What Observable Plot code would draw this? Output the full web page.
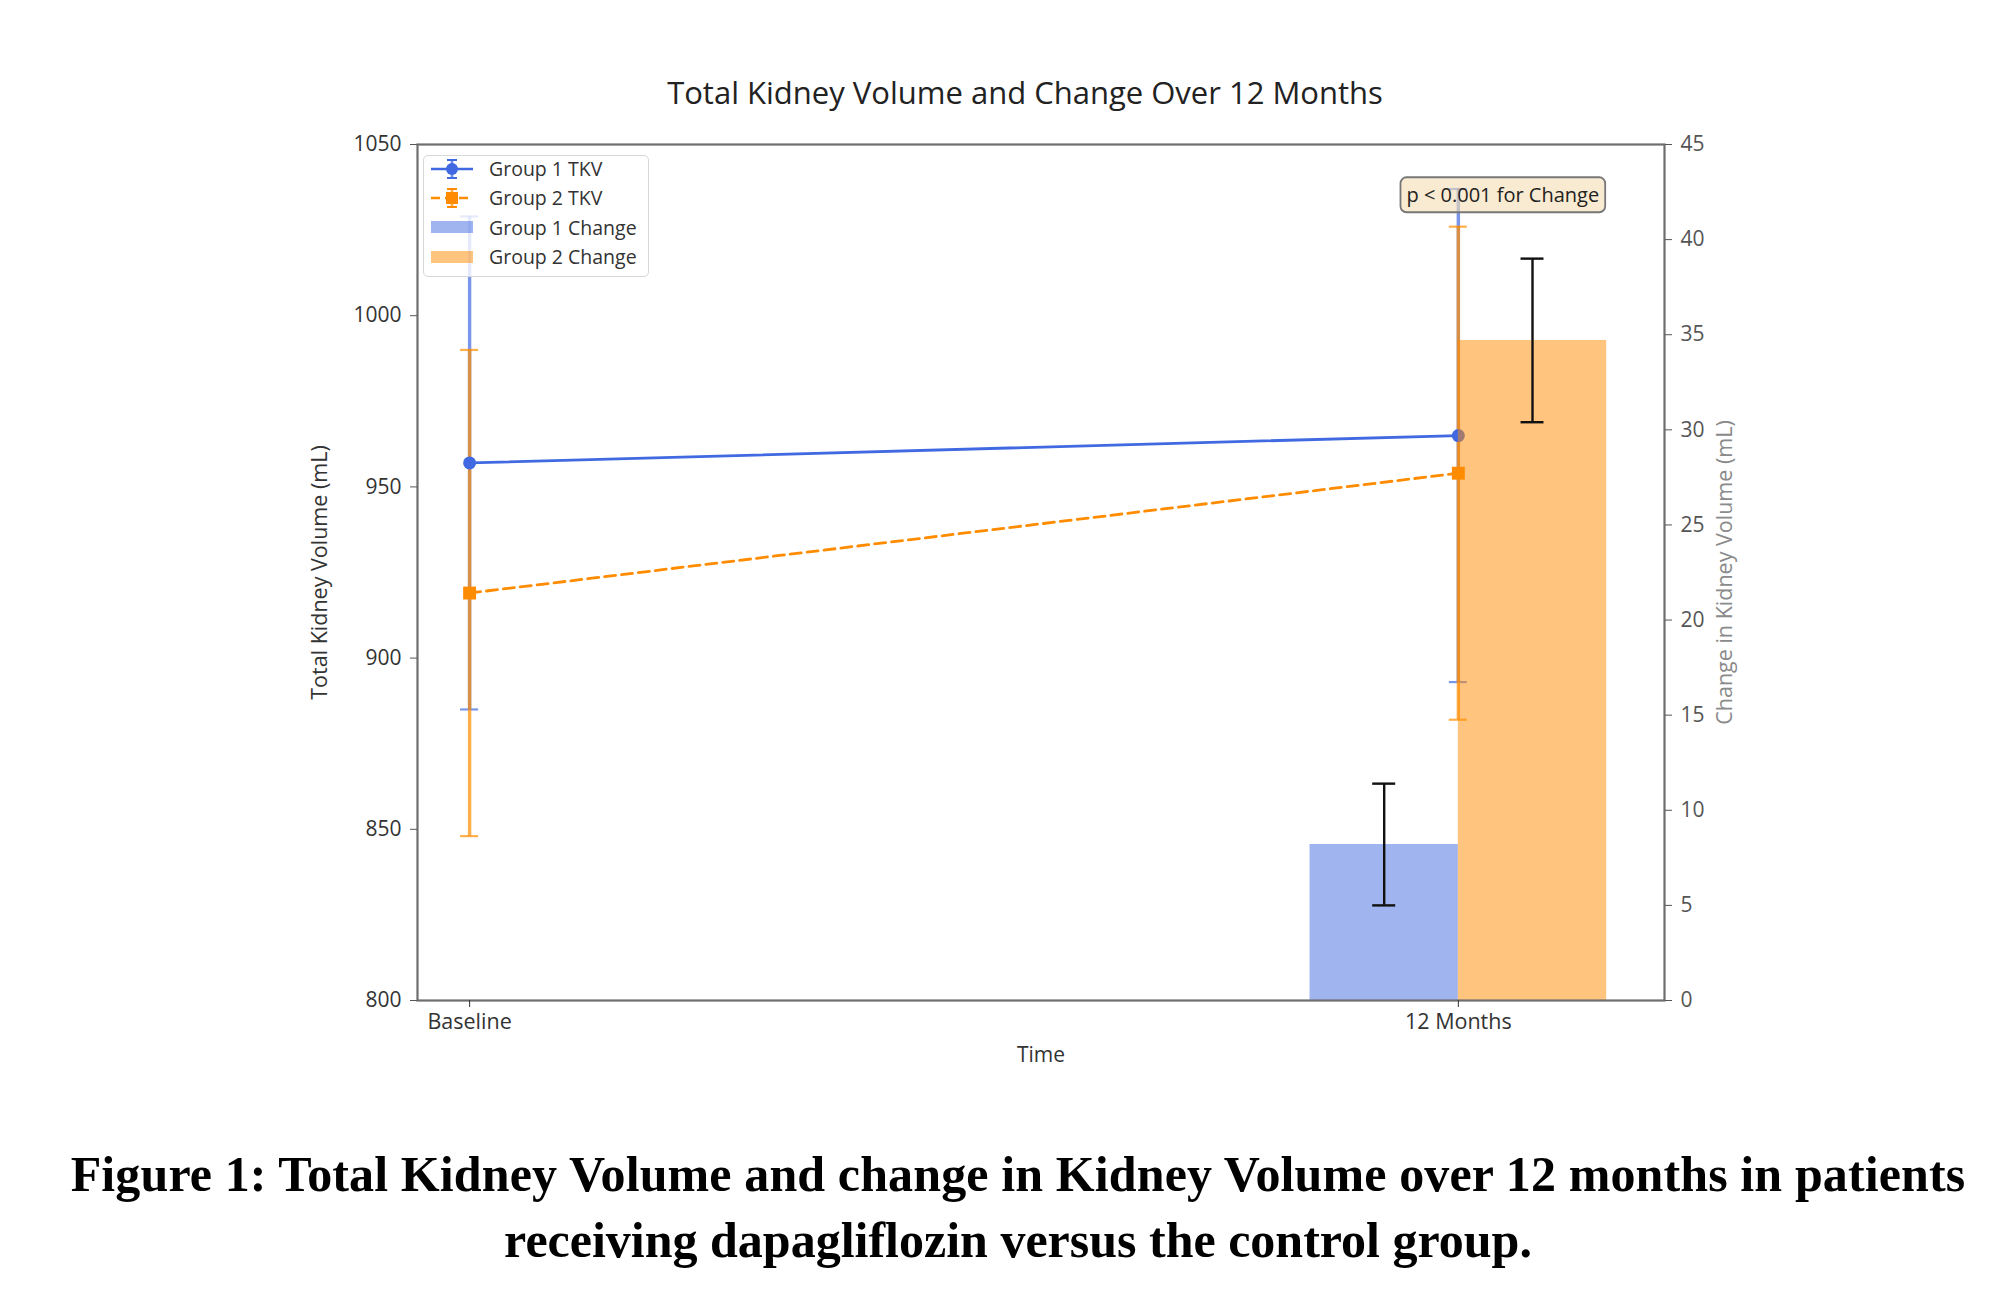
<!DOCTYPE html>
<html><head><meta charset="utf-8">
<script src="https://cdn.jsdelivr.net/npm/d3@7"></script>
<script src="https://cdn.jsdelivr.net/npm/@observablehq/plot@0.6"></script>
<style>
body{margin:0;background:#fff;width:1995px;height:1302px;overflow:hidden;position:relative;font-family:"Open Sans",sans-serif}
#chart{position:absolute;left:0;top:0}
#legend{position:absolute;left:423px;top:155px;width:226px;height:122px;box-sizing:border-box;border:1.5px solid #d8d8d8;border-radius:5px;background:rgba(255,255,255,0.8);padding-top:0}
#legend .inner{margin-top:-2px}
.row{height:29.3px;display:flex;align-items:center;font-size:19.5px;color:#333}
.row svg{margin-left:6px;margin-right:15px}
.cap{position:absolute;font-family:"Liberation Serif","Times New Roman",serif;font-weight:bold;font-size:50px;line-height:58px;color:#000;white-space:nowrap;text-align:center;left:0;width:2036px}
#cap1{top:1145px;letter-spacing:0.12px}
#cap2{top:1211px}
</style></head><body>
<div id="chart"></div>
<div id="legend"></div>
<div id="cap1" class="cap">Figure 1: Total Kidney Volume and change in Kidney Volume over 12 months in patients</div>
<div id="cap2" class="cap">receiving dapagliflozin versus the control group.</div>
<script>
// ---- data ----
const timepoints = ["Baseline", "12 Months"];
const timeIndex = [0, 1];
const g1Mean = [957, 965];
const g1SD = [72, 72];
const g2Mean = [919, 954];
const g2SD = [71, 72];
const changeLabels = ["Group 1 Change", "Group 2 Change"];
const changeMean = [8.2, 34.7];
const changeSD = [3.2, 4.3];
const leftTicks = [800, 850, 900, 950, 1000, 1050];
const rightTicks = [0, 5, 10, 15, 20, 25, 30, 35, 40, 45];
const leftDomain = [800, 1050];
const rightDomain = [0, 45];
const annotationText = "p < 0.001 for Change";
const annotationPos = {x: 1.045, y: 1035};
const legendLabels = ["Group 1 TKV", "Group 2 TKV", "Group 1 Change", "Group 2 Change"];

// ---- layout ----
const W = 1995, H = 1090;
const mL = 417, mR = 331, mT = 144, mB = 90;
const xDomain = [-0.0527, 1.2085];
const pxPerUnit = (W - mL - mR) / (xDomain[1] - xDomain[0]);
const capTKV = 9 / pxPerUnit, capChange = 11.5 / pxPerUnit;
const barW = 0.15;
const blue = "#4169E1", orange = "#FF8C00";

const toLeft = v => leftDomain[0] + (v - rightDomain[0]) * (leftDomain[1] - leftDomain[0]) / (rightDomain[1] - rightDomain[0]);
const fromLeft = y => rightDomain[0] + (y - leftDomain[0]) * (rightDomain[1] - rightDomain[0]) / (leftDomain[1] - leftDomain[0]);

const g1 = timeIndex.map((t, i) => ({x: t, mean: g1Mean[i], lo: g1Mean[i] - g1SD[i], hi: g1Mean[i] + g1SD[i]}));
const g2 = timeIndex.map((t, i) => ({x: t, mean: g2Mean[i], lo: g2Mean[i] - g2SD[i], hi: g2Mean[i] + g2SD[i]}));
const bars = changeLabels.map((g, i) => ({
  group: g,
  x1: 1 + (i - 1) * barW, x2: 1 + i * barW, xc: 1 + (i - 0.5) * barW,
  top: toLeft(changeMean[i]),
  lo: toLeft(changeMean[i] - changeSD[i]), hi: toLeft(changeMean[i] + changeSD[i]),
  color: i === 0 ? blue : orange
}));

function errMarks(data, color, op) {
  return [
    Plot.ruleX(data, {x: "x", y1: "lo", y2: "hi", stroke: color, strokeWidth: 3.4, strokeOpacity: op}),
    Plot.ruleY(data, {y: "lo", x1: d => d.x - capTKV, x2: d => d.x + capTKV, stroke: color, strokeWidth: 2.2, strokeOpacity: op}),
    Plot.ruleY(data, {y: "hi", x1: d => d.x - capTKV, x2: d => d.x + capTKV, stroke: color, strokeWidth: 2.2, strokeOpacity: op})
  ];
}

const chart = Plot.plot({
  width: W, height: H,
  marginLeft: mL, marginRight: mR, marginTop: mT, marginBottom: mB,
  style: {fontFamily: "Open Sans, sans-serif", background: "#fff", overflow: "visible"},
  x: {type: "linear", domain: xDomain, axis: null},
  y: {domain: leftDomain, axis: null},
  marks: [
    ...errMarks(g1, blue, 0.7),
    ...errMarks(g2, orange, 0.7),
    Plot.line(g1, {x: "x", y: "mean", stroke: blue, strokeWidth: 2.8}),
    Plot.line(g2, {x: "x", y: "mean", stroke: orange, strokeWidth: 2.8, strokeDasharray: "11,6"}),
    Plot.dot(g1, {x: "x", y: "mean", r: 6.5, fill: blue, symbol: "circle"}),
    Plot.dot(g2, {x: "x", y: "mean", r: 7.3, fill: orange, symbol: "square"}),
    Plot.rect(bars, {x1: "x1", x2: "x2", y1: leftDomain[0], y2: "top", fill: "color", fillOpacity: 0.5}),
    Plot.ruleX(bars, {x: "xc", y1: "lo", y2: "hi", stroke: "#111", strokeWidth: 2.4}),
    Plot.ruleY(bars, {y: "lo", x1: d => d.xc - capChange, x2: d => d.xc + capChange, stroke: "#111", strokeWidth: 2.4}),
    Plot.ruleY(bars, {y: "hi", x1: d => d.xc - capChange, x2: d => d.xc + capChange, stroke: "#111", strokeWidth: 2.4}),
    Plot.frame({stroke: "#6e6e6e", strokeWidth: 2.2}),
    Plot.axisY({anchor: "left", ticks: leftTicks, tickFormat: d => String(d), tickSize: 7, tickPadding: 9, fontSize: 21, label: null, color: "#333", stroke: "#555"}),
    Plot.axisY({anchor: "right", ticks: rightTicks.map(toLeft), tickFormat: d => String(Math.round(fromLeft(d))), tickSize: 7, tickPadding: 9, fontSize: 21, label: null, color: "#555"}),
    Plot.axisX({anchor: "bottom", ticks: timeIndex, tickFormat: d => timepoints[d], tickSize: 7, tickPadding: 6, fontSize: 21.5, label: null, color: "#333"}),
    Plot.text(["Total Kidney Volume and Change Over 12 Months"], {text: d => d, frameAnchor: "top", dx: -16, dy: -63, fontSize: 31, fill: "#222"}),
    Plot.text(["Total Kidney Volume (mL)"], {text: d => d, frameAnchor: "left", textAnchor: "middle", dx: -97, rotate: -90, fontSize: 21.5, fill: "#333"}),
    Plot.text(["Change in Kidney Volume (mL)"], {text: d => d, frameAnchor: "right", textAnchor: "middle", dx: 61, rotate: -90, fontSize: 21.5, fill: "#8a8a8a"}),
    Plot.text(["Time"], {text: d => d, frameAnchor: "bottom", dy: 61, fontSize: 21, fill: "#333"}),
    Plot.text([annotationPos], {x: "x", y: "y", text: () => annotationText, fontSize: 20, fill: "#222"})
  ]
});
document.getElementById("chart").appendChild(chart);

// annotation box behind the text
const svg = chart.tagName.toLowerCase() === "svg" ? chart : chart.querySelector("svg");
for (const t of svg.querySelectorAll("text")) {
  if (t.textContent === annotationText) {
    const b = t.getBBox();
    const ns = "http://www.w3.org/2000/svg";
    const r = document.createElementNS(ns, "rect");
    const padX = 6, padY = 4;
    r.setAttribute("x", b.x - padX); r.setAttribute("y", b.y - padY);
    r.setAttribute("width", b.width + 2 * padX); r.setAttribute("height", b.height + 2 * padY);
    r.setAttribute("rx", 6); r.setAttribute("fill", "rgba(245,222,179,0.6)");
    r.setAttribute("stroke", "#777"); r.setAttribute("stroke-width", 1.8);
    if (t.getAttribute("transform")) r.setAttribute("transform", t.getAttribute("transform"));
    t.parentNode.insertBefore(r, t);
  }
}

// legend
const handles = [
  `<svg width="44" height="26"><line x1="1" y1="13" x2="43" y2="13" stroke="${blue}" stroke-width="2.6"/><line x1="22" y1="4" x2="22" y2="22" stroke="${blue}" stroke-width="2.6" stroke-opacity="0.75"/><line x1="17" y1="4" x2="27" y2="4" stroke="${blue}" stroke-width="2"/><line x1="17" y1="22" x2="27" y2="22" stroke="${blue}" stroke-width="2"/><circle cx="22" cy="13" r="6" fill="${blue}"/></svg>`,
  `<svg width="44" height="26"><line x1="1" y1="13" x2="43" y2="13" stroke="${orange}" stroke-width="2.6" stroke-dasharray="9,5"/><line x1="22" y1="4" x2="22" y2="22" stroke="${orange}" stroke-width="2.6" stroke-opacity="0.75"/><line x1="17" y1="4" x2="27" y2="4" stroke="${orange}" stroke-width="2"/><line x1="17" y1="22" x2="27" y2="22" stroke="${orange}" stroke-width="2"/><rect x="16" y="7" width="12" height="12" fill="${orange}"/></svg>`,
  `<svg width="44" height="26"><rect x="1" y="7" width="42" height="12" fill="${blue}" fill-opacity="0.5"/></svg>`,
  `<svg width="44" height="26"><rect x="1" y="7" width="42" height="12" fill="${orange}" fill-opacity="0.5"/></svg>`
];
document.getElementById("legend").innerHTML = `<div class="inner">` + legendLabels.map((l, i) => `<div class="row">${handles[i]}<span>${l}</span></div>`).join("") + `</div>`;
</script>
</body></html>
